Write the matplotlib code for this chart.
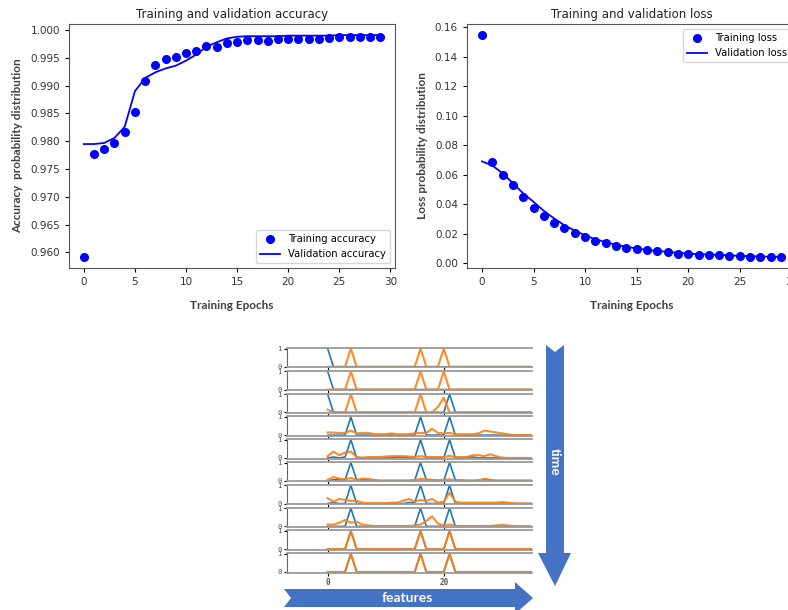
import matplotlib
matplotlib.use("Agg")
import matplotlib.pyplot as plt
from matplotlib.patches import Polygon
import numpy as np

# ---- training curves ----
epochs = list(range(30))
train_acc = [0.9592, 0.9777, 0.9787, 0.9797, 0.9817, 0.9853, 0.9908, 0.9937, 0.9948, 0.9952,
             0.9958, 0.9962, 0.9971, 0.9970, 0.9976, 0.9978, 0.9982, 0.9982, 0.9981, 0.9984,
             0.9984, 0.9984, 0.9984, 0.9984, 0.9986, 0.9988, 0.9988, 0.9988, 0.9988, 0.9987]
val_acc = [0.9795, 0.9795, 0.9797, 0.9806, 0.9826, 0.9890, 0.9914, 0.9924, 0.9931, 0.9936,
           0.9945, 0.9956, 0.9970, 0.9978, 0.9985, 0.9988, 0.9989, 0.9989, 0.9989, 0.9989,
           0.9990, 0.9990, 0.9990, 0.9990, 0.9990, 0.9991, 0.9991, 0.9991, 0.9991, 0.9991]
train_loss = [0.1545, 0.0687, 0.0601, 0.0528, 0.0451, 0.0373, 0.0319, 0.0273, 0.0237, 0.0207,
              0.0175, 0.0152, 0.0137, 0.0118, 0.0102, 0.0096, 0.0089, 0.0082, 0.0073, 0.0066,
              0.0064, 0.0057, 0.0057, 0.0057, 0.0050, 0.0050, 0.0043, 0.0043, 0.0043, 0.0045]
val_loss = [0.0690, 0.0662, 0.0610, 0.0542, 0.0473, 0.0416, 0.0355, 0.0303, 0.0257, 0.0221,
            0.0189, 0.0162, 0.0143, 0.0125, 0.0112, 0.0100, 0.0091, 0.0084, 0.0077, 0.0071,
            0.0066, 0.0061, 0.0059, 0.0057, 0.0053, 0.0050, 0.0048, 0.0046, 0.0044, 0.0043]

# ---- feature rows (time steps), 36 features each ----
features = list(range(36))
blue_rows = [
    [1, 0, 0, 0, 0, 0, 0, 0, 0, 0, 0, 0, 0, 0, 0, 0, 0, 0, 0, 0, 0, 0, 0, 0, 0, 0, 0, 0, 0, 0, 0, 0, 0, 0, 0, 0],
    [1, 0, 0, 0, 0, 0, 0, 0, 0, 0, 0, 0, 0, 0, 0, 0, 0, 0, 0, 0, 0, 0, 0, 0, 0, 0, 0, 0, 0, 0, 0, 0, 0, 0, 0, 0],
    [1, 0, 0, 0, 0, 0, 0, 0, 0, 0, 0, 0, 0, 0, 0, 0, 0, 0, 0, 0, 0, 1, 0, 0, 0, 0, 0, 0, 0, 0, 0, 0, 0, 0, 0, 0],
    [0, 0, 0, 0, 1, 0, 0, 0, 0, 0, 0, 0, 0, 0, 0, 0, 1, 0, 0, 0, 0, 1, 0, 0, 0, 0, 0, 0, 0, 0, 0, 0, 0, 0, 0, 0],
    [0, 0.05, 0, 0.05, 1, 0, 0, 0, 0, 0, 0, 0, 0.05, 0.05, 0, 0, 1, 0, 0, 0, 0, 1, 0, 0, 0.05, 0.05, 0, 0, 0, 0, 0, 0, 0, 0, 0, 0],
    [0, 0.05, 0.05, 0.05, 1, 0.05, 0.05, 0.05, 0.03, 0, 0, 0, 0, 0, 0, 0.03, 1, 0.05, 0.05, 0.03, 0, 1, 0.03, 0.03, 0, 0, 0.03, 0.08, 0.05, 0, 0, 0, 0, 0, 0, 0],
    [0, 0.05, 0, 0, 1, 0, 0, 0, 0, 0, 0, 0, 0, 0, 0.05, 0.05, 1, 0, 0, 0, 0, 1, 0, 0, 0, 0, 0, 0, 0, 0, 0, 0, 0, 0, 0, 0],
    [0, 0, 0, 0, 1, 0, 0, 0, 0, 0, 0, 0, 0, 0, 0, 0, 1, 0, 0, 0, 0, 1, 0, 0, 0, 0, 0, 0, 0, 0, 0, 0, 0, 0, 0, 0],
    [0, 0, 0, 0, 1, 0, 0, 0, 0, 0, 0, 0, 0, 0, 0, 0, 1, 0, 0, 0, 0, 1, 0, 0, 0, 0, 0, 0, 0, 0, 0, 0, 0, 0, 0, 0],
    [0, 0, 0, 0, 1, 0, 0, 0, 0, 0, 0, 0, 0, 0, 0, 0, 1, 0, 0, 0, 0, 1, 0, 0, 0, 0, 0, 0, 0, 0, 0, 0, 0, 0, 0, 0],
]
orange_rows = [
    [0, 0, 0, 0, 1, 0, 0, 0, 0, 0, 0, 0, 0, 0, 0, 0, 1, 0, 0, 0, 1, 0, 0, 0, 0, 0, 0, 0, 0, 0, 0, 0, 0, 0, 0, 0],
    [0, 0, 0, 0, 1, 0, 0, 0, 0, 0, 0, 0, 0, 0, 0, 0, 1, 0, 0, 0, 1, 0, 0, 0, 0, 0, 0, 0, 0, 0, 0, 0, 0, 0, 0, 0],
    [0.15, 0, 0, 0, 1, 0, 0, 0, 0, 0, 0, 0, 0, 0, 0, 0, 1, 0, 0, 0.3, 0.8, 0, 0, 0, 0, 0, 0, 0, 0, 0, 0, 0, 0, 0, 0, 0],
    [0.15, 0.14, 0.12, 0.12, 0.25, 0.1, 0.12, 0.12, 0.06, 0.05, 0.05, 0.1, 0.05, 0.05, 0.06, 0.1, 0.12, 0.12, 0.35, 0.12, 0.1, 0.12, 0.05, 0.05, 0.05, 0.05, 0.1, 0.25, 0.2, 0.15, 0.1, 0.05, 0, 0, 0, 0],
    [0.1, 0.35, 0.15, 0.3, 0.35, 0.05, 0.02, 0.05, 0.05, 0.05, 0.08, 0.1, 0.1, 0.1, 0.08, 0.05, 0.1, 0.05, 0.05, 0.05, 0.05, 0.12, 0.05, 0.05, 0.05, 0.15, 0.15, 0.1, 0.2, 0.1, 0.02, 0, 0, 0, 0, 0],
    [0.05, 0.2, 0.12, 0.08, 0.15, 0.05, 0.12, 0.1, 0.05, 0.02, 0.02, 0.02, 0.02, 0.02, 0.02, 0.05, 0.1, 0.08, 0.05, 0.02, 0.05, 0.08, 0.02, 0.02, 0.02, 0.02, 0.02, 0.1, 0.05, 0.02, 0.02, 0.02, 0.02, 0.02, 0.02, 0.02],
    [0.3, 0.1, 0.25, 0.2, 0.15, 0.15, 0.05, 0.02, 0.02, 0.02, 0.02, 0.05, 0.05, 0.15, 0.25, 0.1, 0.2, 0.15, 0.25, 0.05, 0.1, 0.6, 0.1, 0.05, 0.05, 0.05, 0.05, 0.05, 0.05, 0.05, 0.08, 0.05, 0.02, 0, 0, 0],
    [0.1, 0.1, 0.2, 0.35, 0.2, 0.25, 0.1, 0.05, 0.02, 0.02, 0.02, 0.02, 0.02, 0.02, 0.02, 0.05, 0.1, 0.3, 0.55, 0.15, 0.05, 0.1, 0.02, 0.02, 0.02, 0.02, 0.02, 0.02, 0.02, 0.05, 0.08, 0.05, 0.02, 0, 0, 0],
    [0, 0, 0, 0, 1, 0, 0, 0, 0, 0, 0, 0, 0, 0, 0, 0, 1, 0, 0, 0, 0, 1, 0, 0, 0, 0, 0, 0, 0, 0, 0, 0, 0, 0, 0, 0],
    [0, 0, 0, 0, 1, 0, 0, 0, 0, 0, 0, 0, 0, 0, 0, 0, 1, 0, 0, 0, 0, 1, 0, 0, 0, 0, 0, 0, 0, 0, 0, 0, 0, 0, 0, 0],
]

W, H = 788, 610
ARROW_BLUE = "#4472c4"
TEXT_GREY = "#333333"
LABEL_FONT = dict(family="Lato", weight="bold", size=8.5, color="#404040")


def fx(px):
    return px / W


def fy(py):
    return 1 - py / H


fig = plt.figure(figsize=(W / 100, H / 100), dpi=100)

# accuracy
ax1 = fig.add_axes([fx(69), fy(268), fx(395 - 69), (268 - 24) / H])
ax1.plot(epochs, train_acc, "bo", markersize=5.5, label="Training accuracy")
ax1.plot(epochs, val_acc, "b", linewidth=1.3, label="Validation accuracy")
ax1.set_title("Training and validation accuracy", fontsize=8.5, color="#222222", pad=4)
ax1.set_xlabel("Training Epochs", labelpad=9, **LABEL_FONT)
ax1.set_ylabel("Accuracy  probability distribution", labelpad=5, **LABEL_FONT)
ax1.legend(loc="lower right", fontsize=7.2)

# loss
ax2 = fig.add_axes([fx(467), fy(268), fx(796 - 467), (268 - 24) / H])
ax2.plot(epochs, train_loss, "bo", markersize=5.5, label="Training loss")
ax2.plot(epochs, val_loss, "b", linewidth=1.3, label="Validation loss")
ax2.set_title("Training and validation loss", fontsize=8.5, color="#222222", pad=4)
ax2.set_xlabel("Training Epochs", labelpad=9, **LABEL_FONT)
ax2.set_ylabel("Loss probability distribution", labelpad=5, **LABEL_FONT)
ax2.legend(loc="upper right", fontsize=7.2)

for ax in (ax1, ax2):
    ax.tick_params(labelsize=7.5, labelcolor=TEXT_GREY, length=3)
    for s in ax.spines.values():
        s.set_color("#555555")

# stacked feature rows
row_top, row_step, row_h = 348, 22.8, 19.3
for i in range(len(blue_rows)):
    top = row_top + i * row_step
    ax = fig.add_axes([fx(287), fy(top + row_h), fx(532 - 287), row_h / H])
    ax.plot(features, blue_rows[i], color="#1f77b4", linewidth=1.2)
    ax.plot(features, orange_rows[i], color="#ff7f0e", linewidth=1.5, alpha=0.9)
    ax.set_xlim(-7, 35.2)
    ax.set_ylim(-0.03, 1.03)
    ax.set_yticks([0, 1])
    ax.set_xticks([0, 20])
    ax.spines["right"].set_visible(False)
    ax.spines["top"].set_color("#9a9a9a")
    ax.spines["bottom"].set_color("#9a9a9a")
    ax.spines["top"].set_linewidth(1.3)
    ax.spines["bottom"].set_linewidth(1.3)
    ax.spines["left"].set_color("#666666")
    ax.tick_params(axis="y", labelsize=5.2, length=2, pad=2, labelcolor="#555555")
    ax.tick_params(axis="x", labelsize=5.5, length=2, pad=2, labelcolor="#555555")
    for t in ax.get_yticklabels():
        t.set_family("DejaVu Sans Mono")
    if i < len(blue_rows) - 1:
        ax.tick_params(axis="x", labelbottom=False)
    else:
        for t in ax.get_xticklabels():
            t.set_family("DejaVu Sans Mono")
            t.set_weight("bold")

# time arrow (vertical, pointing down)
time_pts = [(546, 345), (555, 352), (564, 345), (564, 553), (571, 553), (555, 586),
            (538, 553), (546, 553)]
fig.patches.append(Polygon([(fx(x), fy(y)) for x, y in time_pts], closed=True,
                           transform=fig.transFigure, facecolor=ARROW_BLUE, edgecolor="none"))
fig.text(fx(555), fy(462), "time", rotation=-90, ha="center", va="center",
         color="white", family="Lato", weight="bold", fontsize=10)

# features arrow (horizontal, pointing right)
feat_pts = [(284, 589), (291, 598), (284, 607), (515, 607), (515, 614), (533, 598),
            (515, 582), (515, 589)]
fig.patches.append(Polygon([(fx(x), fy(y)) for x, y in feat_pts], closed=True,
                           transform=fig.transFigure, facecolor=ARROW_BLUE, edgecolor="none"))
fig.text(fx(407), fy(598), "features", ha="center", va="center",
         color="white", family="Lato", weight="bold", fontsize=10)

fig.savefig("out.png", dpi=100)
